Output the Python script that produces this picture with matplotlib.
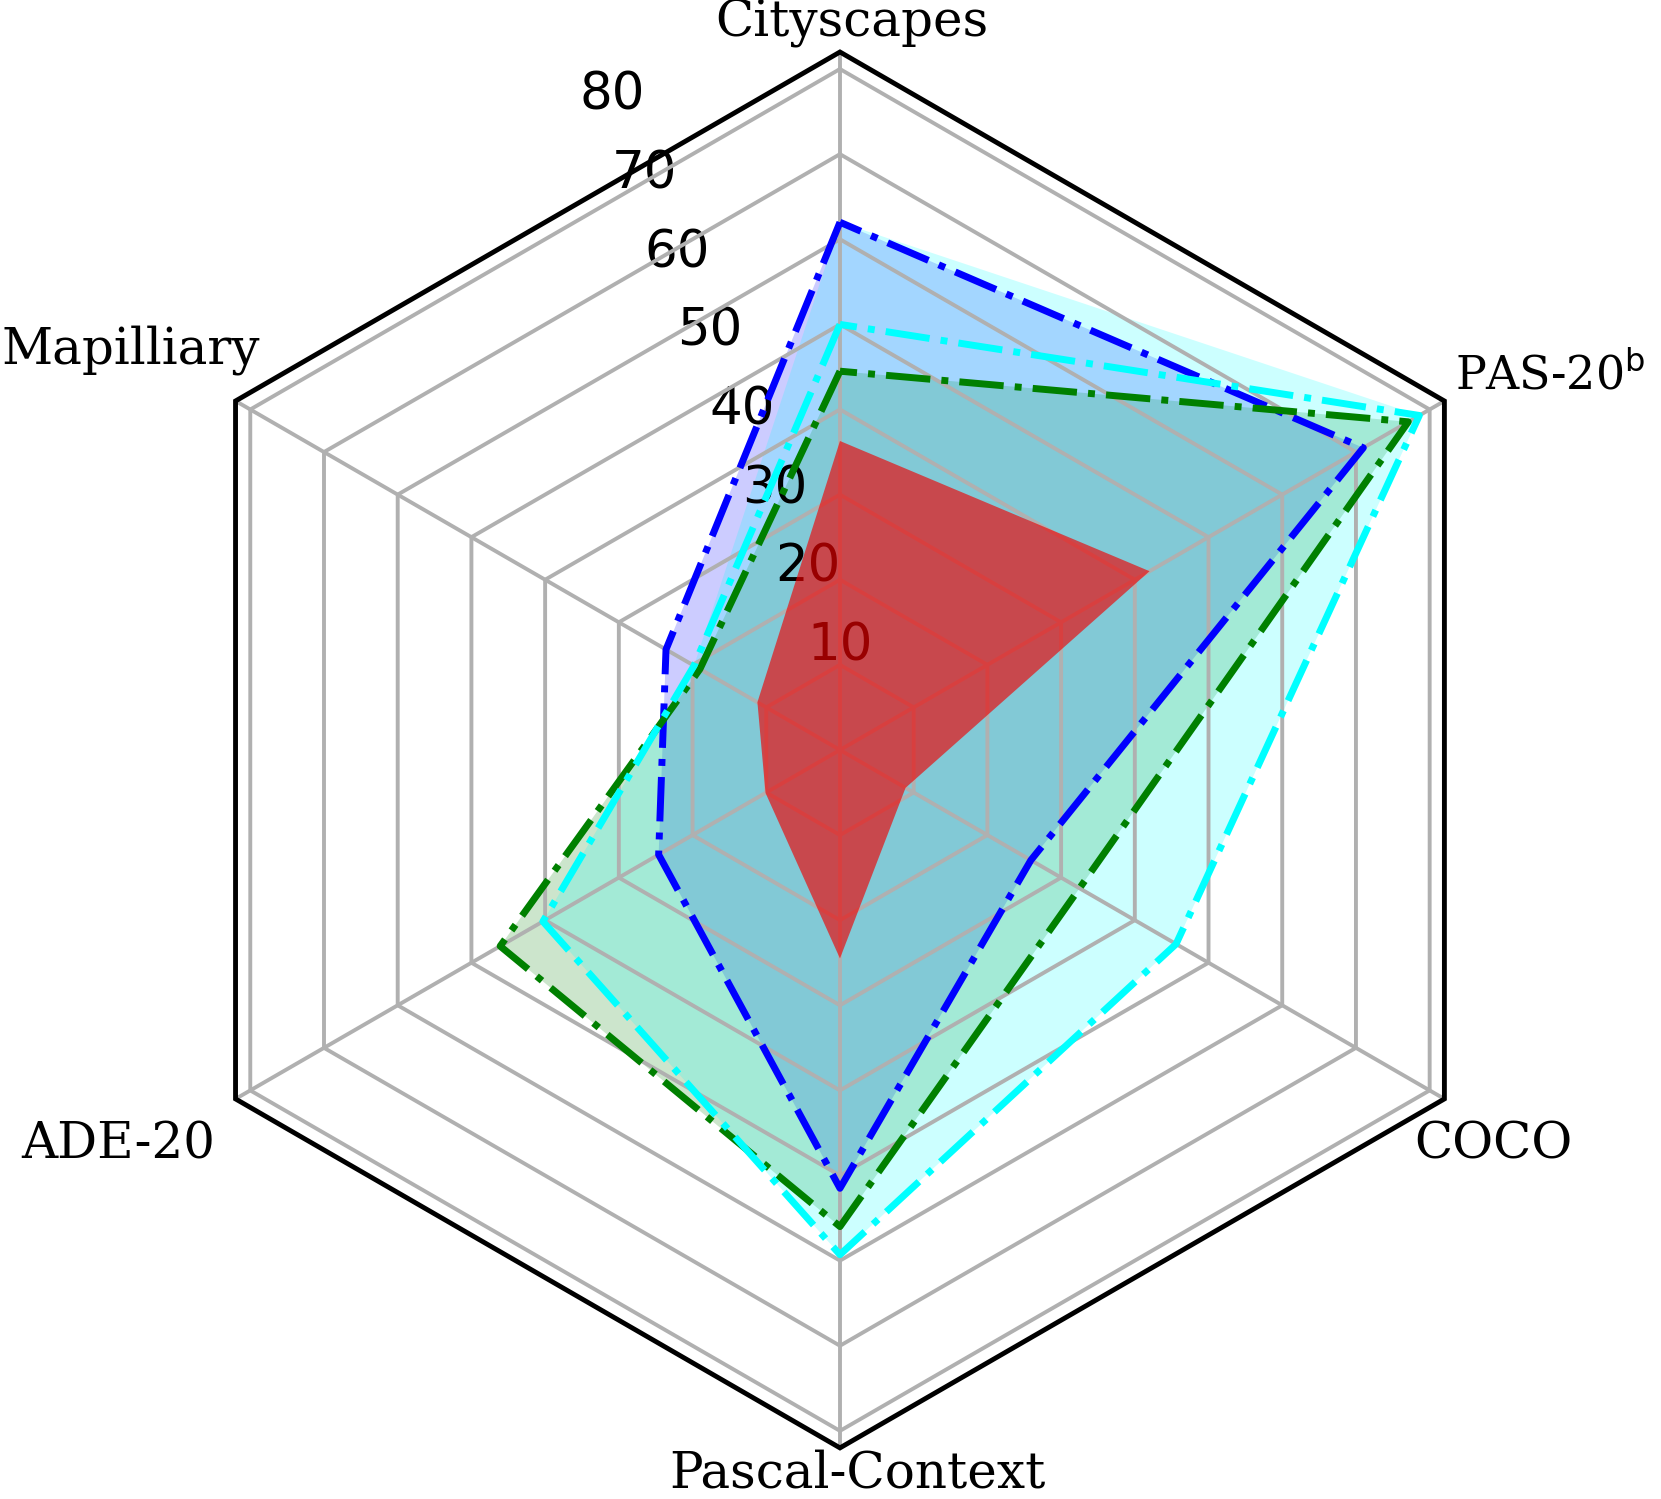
import numpy as np
import matplotlib
matplotlib.use('Agg')
import matplotlib.pyplot as plt
from matplotlib.patches import RegularPolygon
from matplotlib.path import Path
from matplotlib.projections import register_projection
from matplotlib.projections.polar import PolarAxes
from matplotlib.spines import Spine
from matplotlib.transforms import Affine2D

# ---------------- data ----------------
categories = ['Cityscapes', 'Mapilliary', 'ADE-20', 'Pascal-Context', 'COCO',
              r'PAS-20$^{\mathrm{b}}$']
blue_vals = [62.0, 23.6, 24.6, 51.5, 25.9, 71.0]
green_vals = [44.5, 19.0, 46.1, 56.0, 32.5, 77.1]
cyan_vals = [50.0, 19.8, 40.3, 59.3, 45.6, 78.6]
cyan_fill_vals = [62.0, 19.8, 40.3, 59.3, 45.6, 78.6]
red_vals = [36.3, 11.2, 10.1, 24.5, 8.9, 42.0]
r_ticks = [10, 20, 30, 40, 50, 60, 70, 80]
r_max = 82

N = len(categories)


def radar_factory(num_vars):
    theta = np.linspace(0, 2 * np.pi, num_vars, endpoint=False)

    class RadarTransform(PolarAxes.PolarTransform):
        def transform_path_non_affine(self, path):
            if path._interpolation_steps > 1:
                path = path.interpolated(num_vars)
            return Path(self.transform(path.vertices), path.codes)

    class RadarAxes(PolarAxes):
        name = 'radar'
        PolarTransform = RadarTransform

        def __init__(self, *args, **kwargs):
            super().__init__(*args, **kwargs)
            self.set_theta_zero_location('N')

        def fill(self, *args, closed=True, **kwargs):
            return super().fill(closed=closed, *args, **kwargs)

        def plot(self, *args, **kwargs):
            lines = super().plot(*args, **kwargs)
            for line in lines:
                x, y = line.get_data()
                if x[0] != x[-1]:
                    x = np.append(x, x[0])
                    y = np.append(y, y[0])
                    line.set_data(x, y)
            return lines

        def _gen_axes_patch(self):
            return RegularPolygon((0.5, 0.5), num_vars, radius=.5, edgecolor="k")

        def _gen_axes_spines(self):
            spine = Spine(axes=self, spine_type='circle',
                          path=Path.unit_regular_polygon(num_vars))
            spine.set_transform(Affine2D().scale(.5).translate(.5, .5) + self.transAxes)
            return {'polar': spine}

    register_projection(RadarAxes)
    return theta


theta = radar_factory(N)

plt.rcParams['grid.color'] = '#b0b0b0'
plt.rcParams['grid.linewidth'] = 2.8

fig = plt.figure(figsize=(16.61, 14.99), dpi=100)
ax = fig.add_axes([0.0855, 0.0341, 0.8404, 0.9312], projection='radar')
ax.set_axisbelow('line')
ax.set_ylim(0, r_max)
ax.set_rgrids(r_ticks, labels=[str(t) for t in r_ticks], angle=22.5,
              fontsize=37, family='DejaVu Sans')
ax.set_xticks(theta)
ax.set_xticklabels([''] * N)
ax.tick_params(axis='x', length=0)
ax.spines['polar'].set_linewidth(3.5)
ax.spines['polar'].set_color('black')

ax.fill(theta, blue_vals, color='blue', alpha=0.2, linewidth=0, zorder=1)
ax.fill(theta, green_vals, color='green', alpha=0.2, linewidth=0, zorder=1)
ax.fill(theta, cyan_fill_vals, color='cyan', alpha=0.2, linewidth=0, zorder=1)
ax.fill(theta, red_vals, color='#f00000', alpha=0.64, linewidth=0, zorder=1.8)

for vals, col in [(blue_vals, 'blue'), (green_vals, 'green'), (cyan_vals, 'cyan')]:
    ax.plot(theta, vals, color=col, linestyle='-.', linewidth=5, zorder=2)

# category labels (positions in data units, x right / y up)
label_pos = [
    (1.37, 83.8, 'center', 36),
    (-83.3, 45.4, 'center', 36),
    (-84.8, -48.0, 'center', 36),
    (2.0, -86.6, 'center', 36),
    (76.8, -48.0, 'center', 36),
    (72.3, 42.5, 'left', 33),
]
for lab, (ux, uy, ha, fs) in zip(categories, label_pos):
    th = np.arctan2(uy, ux) - np.pi / 2
    rr = np.hypot(ux, uy)
    ax.text(th, rr, lab, ha=ha, va='baseline', fontsize=fs,
            family='DejaVu Serif', zorder=5, clip_on=False)

fig.savefig('out.png', dpi=100)
